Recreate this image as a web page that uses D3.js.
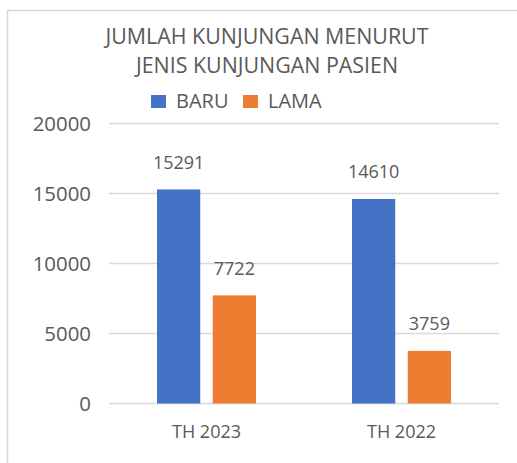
<!DOCTYPE html>
<html><head><meta charset="utf-8">
<script src="https://cdn.jsdelivr.net/npm/d3@7"></script>
<style>html,body{margin:0;padding:0;background:#fff;overflow:hidden}</style>
</head><body>
<svg id="c" width="517" height="463"></svg>
<script>
const categories = ["TH 2023", "TH 2022"];
const seriesNames = ["BARU", "LAMA"];
const baru = [15291, 14610];
const lama = [7722, 3759];
const yTicks = [0, 5000, 10000, 15000, 20000];
const titleLines = ["JUMLAH KUNJUNGAN MENURUT", "JENIS KUNJUNGAN PASIEN"];
const colors = ["#4472C4", "#ED7D31"];

const svg = d3.select("#c");
const font = "'Open Sans', sans-serif";
const textCol = "#595959";
const gridCol = "#d9d9d9";

// chart border
svg.append("path").attr("d", "M7.5,463 V10.5 H517").attr("fill", "none")
  .attr("stroke", gridCol).attr("stroke-width", 1.5);

const x0 = d3.scaleBand().domain(categories).range([109, 499]).paddingInner(0).paddingOuter(0);
const y = d3.scaleLinear().domain([0, 20000]).range([403.5, 123.5]);
const x1 = d3.scaleBand().domain(seriesNames).range([0, 99]).paddingInner(0.224).paddingOuter(0);
const groupOffset = (x0.bandwidth() - 99) / 2;

// gridlines
svg.append("g").selectAll("line").data(yTicks).join("line")
  .attr("x1", 109).attr("x2", 499)
  .attr("y1", d => y(d)).attr("y2", d => y(d))
  .attr("stroke", gridCol).attr("stroke-width", 1.5);

// y tick labels
svg.append("g").selectAll("text").data(yTicks).join("text")
  .attr("x", 91).attr("y", d => y(d)).attr("dy", "0.35em")
  .attr("text-anchor", "end").attr("font-family", font).attr("font-size", 20.4)
  .attr("fill", textCol).text(d => d);

const data = categories.map((c, i) => ({cat: c, vals: [{s: "BARU", v: baru[i]}, {s: "LAMA", v: lama[i]}]}));

const g = svg.append("g").selectAll("g").data(data).join("g")
  .attr("transform", d => `translate(${x0(d.cat) + groupOffset},0)`);

g.selectAll("rect").data(d => d.vals).join("rect")
  .attr("x", d => x1(d.s)).attr("width", x1.bandwidth())
  .attr("y", d => y(d.v)).attr("height", d => y(0) - y(d.v))
  .attr("fill", (d, i) => colors[i]);

g.selectAll("text").data(d => d.vals).join("text")
  .attr("x", d => x1(d.s) + x1.bandwidth() / 2).attr("y", d => y(d.v) - 20.5)
  .attr("text-anchor", "middle").attr("font-family", font).attr("font-size", 18)
  .attr("fill", textCol).text(d => d.v);

// x labels
svg.append("g").selectAll("text").data(categories).join("text")
  .attr("x", d => x0(d) + x0.bandwidth() / 2).attr("y", 438)
  .attr("text-anchor", "middle").attr("font-family", font).attr("font-size", 18)
  .attr("fill", textCol).text(d => d);

// title
svg.append("g").selectAll("text").data(titleLines).join("text")
  .attr("x", 267).attr("y", (d, i) => 44 + i * 29)
  .attr("text-anchor", "middle").attr("font-family", font).attr("font-size", 21.4)
  .attr("fill", textCol).text(d => d);

// legend
const legX = [151, 243];
const lg = svg.append("g").selectAll("g").data(seriesNames).join("g")
  .attr("transform", (d, i) => `translate(${legX[i]},0)`);
lg.append("rect").attr("x", 0).attr("y", 95).attr("width", 15).attr("height", 13)
  .attr("fill", (d, i) => colors[i]);
lg.append("text").attr("x", 25).attr("y", 108).attr("font-family", font).attr("font-size", 20)
  .attr("fill", textCol).text(d => d);
</script>
</body></html>
